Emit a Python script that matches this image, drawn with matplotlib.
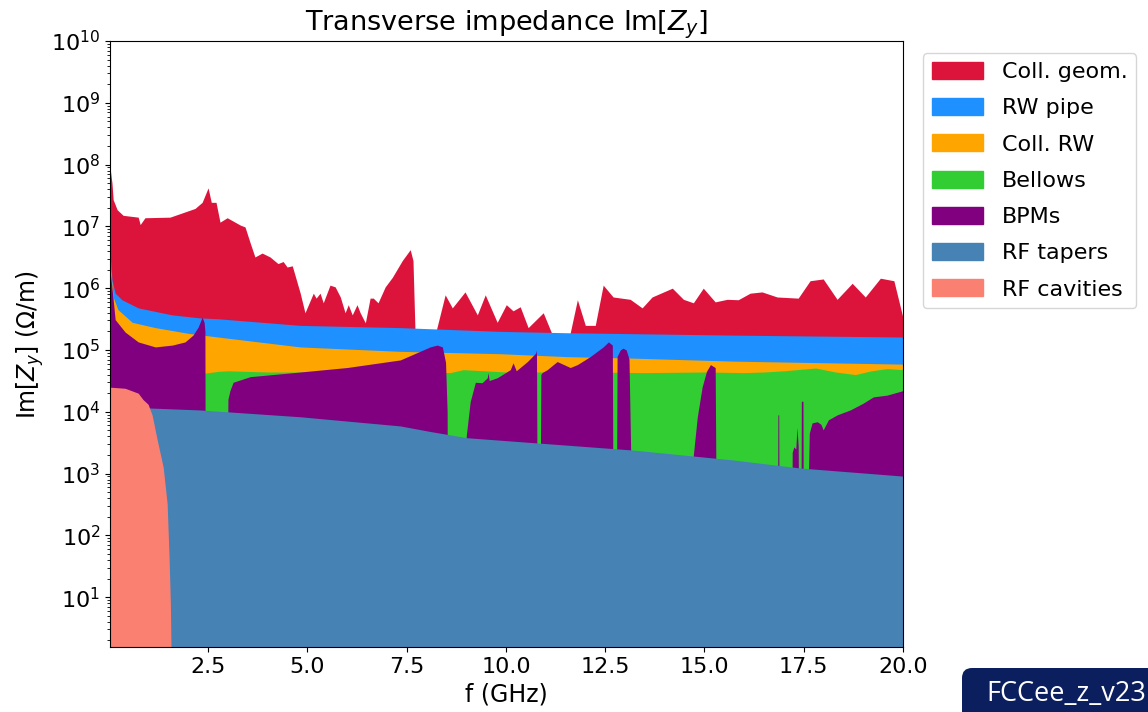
import numpy as np
import matplotlib
matplotlib.use('Agg')
import matplotlib.pyplot as plt
import matplotlib.patches as mpatches
from matplotlib.ticker import LogLocator, MultipleLocator
from matplotlib.transforms import IdentityTransform

# frequency in GHz, impedance contributions in Ohm/m (upper edge of each band)
f_coll_geom = [0.03, 0.08, 0.11, 0.21, 0.36, 0.74, 0.79, 0.91, 1.54, 2.17, 2.35, 2.50, 2.58, 2.70,
               2.80, 2.98, 3.31, 3.43, 3.56, 3.68, 3.86, 4.06, 4.26, 4.39, 4.49, 4.62, 4.82, 4.94,
               5.15, 5.22, 5.32, 5.40, 5.57, 5.70, 5.83, 5.95, 6.03, 6.13, 6.25, 6.33, 6.46, 6.58,
               6.66, 6.78, 6.96, 7.14, 7.39, 7.59, 7.66, 7.71, 7.72, 8.23, 8.24, 8.47, 8.65, 8.97,
               9.28, 9.48, 9.78, 10.01, 10.18, 10.36, 10.56, 10.94, 11.14, 11.15, 11.61, 11.62,
               11.80, 12.00, 12.25, 12.45, 12.70, 13.13, 13.43, 13.68, 14.19, 14.47, 14.72, 14.97,
               15.27, 15.57, 15.85, 16.15, 16.45, 16.83, 17.36, 17.66, 17.99, 18.34, 18.72, 19.05,
               19.43, 19.77, 20.0]
z_coll_geom = [9.1e7, 5.0e7, 2.7e7, 1.86e7, 1.51e7, 1.41e7, 1.07e7, 1.38e7, 1.41e7, 1.95e7, 2.45e7,
               4.2e7, 2.45e7, 2.45e7, 1.17e7, 1.38e7, 1.05e7, 9.8e6, 5.4e6, 3.2e6, 3.7e6, 3.2e6,
               2.5e6, 2.7e6, 2.2e6, 2.3e6, 8.3e5, 4.0e5, 8.3e5, 6.9e5, 8.3e5, 5.8e5, 1.12e6, 1.05e6,
               7.2e5, 4.0e5, 5.4e5, 3.7e5, 5.4e5, 4.0e5, 2.75e5, 6.9e5, 6.9e5, 5.8e5, 1.05e6, 1.5e6,
               2.8e6, 4.2e6, 2.8e6, 2.1e5, 1e4, 1e4, 2.0e5, 7.8e5, 4.8e5, 8.7e5, 3.7e5, 7.8e5, 2.8e5,
               5.4e5, 4.3e5, 5.0e5, 2.3e5, 4.0e5, 1.95e5, 1e4, 1e4, 1.9e5, 6.5e5, 2.5e5, 2.5e5,
               1.12e6, 7.2e5, 6.6e5, 4.8e5, 7.2e5, 1.0e6, 6.6e5, 5.8e5, 1.0e6, 6.0e5, 6.6e5, 6.5e5,
               8.3e5, 8.7e5, 7.2e5, 6.9e5, 1.32e6, 1.41e6, 6.6e5, 1.2e6, 7.2e5, 1.45e6, 1.32e6, 3.3e5]

f_rw_pipe = [0.03, 0.08, 0.16, 0.33, 0.74, 1.59, 2.30, 2.75, 4.82, 7.34, 9.86, 11.54, 15.72, 20.0]
z_rw_pipe = [4.0e6, 1.35e6, 8.3e5, 6.5e5, 4.8e5, 3.7e5, 3.3e5, 3.2e5, 2.5e5, 2.3e5, 2.0e5, 1.9e5,
             1.74e5, 1.62e5]

f_coll_rw = [0.03, 0.11, 0.23, 0.59, 1.17, 2.00, 2.75, 4.82, 7.34, 9.86, 11.54, 13.13, 15.72, 20.0]
z_coll_rw = [2.5e6, 7.2e5, 4.5e5, 2.8e5, 2.3e5, 1.86e5, 1.62e5, 1.12e5, 9.5e4, 8.7e4, 7.8e4, 7.4e4,
             6.6e4, 5.9e4]

f_bellows = [0.03, 2.40, 2.75, 3.00, 4.00, 6.00, 8.60, 8.92, 10.0, 12.0, 13.5, 15.0, 16.0, 16.5,
             17.0, 17.8, 18.3, 18.8, 19.2, 19.6, 20.0]
z_bellows = [3.2e4, 4.2e4, 4.5e4, 4.6e4, 4.4e4, 4.4e4, 4.3e4, 4.8e4, 4.4e4, 4.4e4, 4.3e4, 4.4e4,
             4.3e4, 4.4e4, 4.6e4, 5.1e4, 4.4e4, 4.0e4, 4.6e4, 5.0e4, 4.8e4]

f_bpms = [0.03, 0.08, 0.16, 0.41, 0.74, 1.17, 1.60, 1.92, 2.12, 2.25, 2.35, 2.40, 2.42, 2.43,
          2.97, 3.00, 3.05, 3.13, 3.56, 4.82, 6.00, 7.34, 8.09, 8.27, 8.40, 8.48, 8.52, 8.53,
          8.98, 9.00, 9.10, 9.23, 9.40, 9.53, 9.55, 9.58, 9.78, 10.11, 10.18, 10.26, 10.54, 10.75,
          10.77, 10.79, 10.86, 10.88, 10.91, 11.04, 11.29, 11.62, 11.80, 12.12, 12.45, 12.58,
          12.68, 12.70, 12.78, 12.80, 12.88, 12.95, 13.03, 13.10, 13.18,
          14.70, 14.72, 14.82, 14.94, 15.05, 15.15, 15.27, 15.30,
          16.84, 16.85, 16.87, 16.88, 17.20, 17.21, 17.25, 17.30, 17.33, 17.36, 17.38,
          17.43, 17.44, 17.48, 17.49,
          17.60, 17.62, 17.64, 17.71, 17.84, 17.93, 17.99, 18.12, 18.34, 18.67, 19.00, 19.25,
          19.60, 20.0]
z_bpms = [2.0e6, 1.0e6, 3.1e5, 1.95e5, 1.35e5, 1.12e5, 1.2e5, 1.35e5, 1.74e5, 2.35e5, 3.4e5, 2.8e5,
          2.0e5, 1e2,
          1e2, 1.6e4, 2.2e4, 3.0e4, 3.7e4, 4.4e4, 5.2e4, 6.9e4, 1.12e5, 1.2e5, 1.12e5, 6.3e4, 1e4,
          1e2,
          1e2, 4.0e3, 1.45e4, 3.0e4, 2.95e4, 3.55e4, 4.3e4, 3.2e4, 3.55e4, 4.8e4, 6.2e4, 4.6e4,
          6.5e4, 8.9e4, 1.0e5, 1e2, 1e2, 4.0e4, 4.3e4, 4.8e4, 6.5e4, 5.2e4, 5.8e4, 7.8e4, 1.12e5,
          1.35e5, 1.2e5, 1e2, 1e2, 7.9e4, 1.0e5, 1.07e5, 1.0e5, 7.1e4, 1e2,
          1e2, 2.0e3, 8.3e3, 2.5e4, 4.5e4, 5.8e4, 5.2e4, 1e2,
          1e2, 8.9e3, 8.9e3, 1e2, 1e2, 2.2e3, 2.7e3, 2.5e3, 5.6e3, 2.8e3, 1e2,
          1e2, 1.48e4, 1.48e4, 1e2,
          1e2, 1e3, 4.5e3, 6.6e3, 6.9e3, 6.3e3, 5.1e3, 7.4e3, 8.9e3, 1.07e4, 1.38e4, 1.74e4,
          1.86e4, 2.2e4]

f_rf_tapers = [0.03, 1.04, 2.30, 4.82, 7.34, 8.09, 9.02, 13.20, 15.72, 17.41, 20.0]
z_rf_tapers = [1.15e4, 1.15e4, 1.07e4, 8.3e3, 5.9e3, 4.8e3, 3.8e3, 2.4e3, 1.66e3, 1.23e3, 9.1e2]

f_rf_cav = [0.03, 0.41, 0.74, 0.86, 0.99, 1.09, 1.20, 1.37, 1.47, 1.52, 1.55, 1.57, 1.58, 20.0]
z_rf_cav = [2.5e4, 2.4e4, 2.0e4, 1.58e4, 1.32e4, 8.9e3, 4.0e3, 1.26e3, 3.2e2, 40, 8, 1, 1e-2, 1e-2]

labels = ['Coll. geom.', 'RW pipe', 'Coll. RW', 'Bellows', 'BPMs', 'RF tapers', 'RF cavities']
colors = ['crimson', 'dodgerblue', 'orange', 'limegreen', 'purple', 'steelblue', 'salmon']
curves = [(f_coll_geom, z_coll_geom), (f_rw_pipe, z_rw_pipe), (f_coll_rw, z_coll_rw),
          (f_bellows, z_bellows), (f_bpms, z_bpms), (f_rf_tapers, z_rf_tapers),
          (f_rf_cav, z_rf_cav)]

fig = plt.figure(figsize=(11.48, 7.12), dpi=100)
ax = fig.add_axes([110 / 1148, 65 / 712, 793 / 1148, 606 / 712])

# each band is filled from the floor up, later ones painted over earlier ones
for (f, z), c in zip(curves, colors):
    ax.fill_between(f, 1e-2, z, color=c, linewidth=0)

ax.set_yscale('log')
ax.set_xlim(0.03, 20.0)
ax.set_ylim(1.56, 1e10)
ax.xaxis.set_major_locator(MultipleLocator(2.5))
ax.yaxis.set_major_locator(LogLocator(base=10, numticks=15))
ax.yaxis.set_minor_locator(LogLocator(base=10, subs=np.arange(2, 10), numticks=15))
ax.tick_params(labelsize=16)

ax.set_title('Transverse impedance Im[$Z_y$]', fontsize=19.5, pad=5)
ax.set_xlabel('f (GHz)', fontsize=17, labelpad=4)
ax.set_ylabel('Im[$Z_y$] (Ω/m)', fontsize=17)

handles = [mpatches.Patch(color=c) for c in colors]
ax.legend(handles, labels, loc='upper left', bbox_to_anchor=(1.025, 0.98), borderaxespad=0,
          fontsize=16, handlelength=2.3, handleheight=0.8, handletextpad=0.85,
          labelspacing=0.72)

# slide tag in the lower right corner
tag = mpatches.FancyBboxPatch((962, -30), 260, 74, boxstyle='round,pad=0,rounding_size=10',
                              transform=IdentityTransform(), facecolor='#0b1f5e',
                              edgecolor='none')
fig.add_artist(tag)
fig.text(986 / 1148, 1 - 680 / 712, 'FCCee_z_v23', color='white', fontsize=19.5,
         family='Open Sans', va='top', ha='left')

fig.savefig('out.png', dpi=100)
